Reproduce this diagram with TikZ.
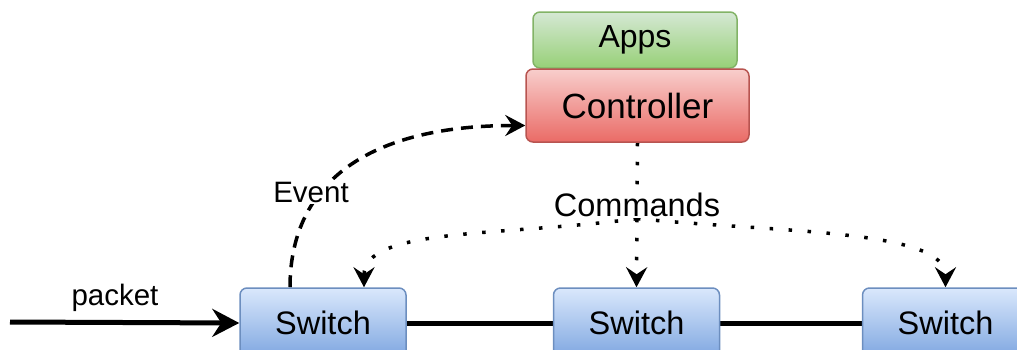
\documentclass[tikz,border=0pt]{standalone}
\usepackage{fontspec}
\setmainfont{Liberation Sans}
\usetikzlibrary{arrows.meta}

\definecolor{appsTop}{HTML}{D5E8D4}
\definecolor{appsBot}{HTML}{97D077}
\definecolor{appsLine}{HTML}{82B366}
\definecolor{ctrlTop}{HTML}{F8CECC}
\definecolor{ctrlBot}{HTML}{EA6B66}
\definecolor{ctrlLine}{HTML}{B85450}
\definecolor{swTop}{HTML}{DAE8FC}
\definecolor{swBot}{HTML}{7EA6E0}
\definecolor{swLine}{HTML}{6C8EBF}

\pgfdeclarelayer{bg}
\pgfsetlayers{bg,main}

\begin{document}
\begin{tikzpicture}[x=1pt,y=-1pt,
  box/.style={draw, rounded corners=7pt, line width=1.5pt, inner sep=0pt, text=black},
  appsbox/.style={box, draw=appsLine, top color=appsTop, bottom color=appsBot,
    minimum width=204pt, minimum height=56pt, font=\fontsize{32}{38}\selectfont},
  ctrlbox/.style={box, draw=ctrlLine, top color=ctrlTop, bottom color=ctrlBot,
    minimum width=223pt, minimum height=73pt, font=\fontsize{35}{40}\selectfont},
  swbox/.style={box, draw=swLine, top color=swTop, bottom color=swBot,
    minimum width=166pt, minimum height=70pt, font=\fontsize{32.5}{38}\selectfont},
  lbl/.style={fill=white, inner sep=1.5pt, font=\fontsize{29.5}{34}\selectfont},
  cmdlbl/.style={fill=white, inner sep=1.5pt, font=\fontsize{32.5}{38}\selectfont},
  link/.style={line width=5pt},
  evt/.style={line width=3.5pt, dash pattern=on 12pt off 8pt,
    -{Stealth[length=20pt, width=21pt, inset=7pt]}},
  cmd/.style={line width=3.5pt, dash pattern=on 3.5pt off 15.5pt,
    -{Stealth[length=20pt, width=21pt, inset=7pt]}},
]
\useasboundingbox (0,0) rectangle (1017,349);
\clip (0,0) rectangle (1017,349);

% application layer and controller
\node[appsbox] (apps) at (635,40) {Apps};
\node[ctrlbox] (ctrl) at (637.5,105.5) {Controller};

% data plane switches
\node[swbox] (sw1) at (323,323) {Switch};
\node[swbox] (sw2) at (636.5,323) {Switch};
\node[swbox] (sw3) at (945.5,323) {Switch};

% labels
\node[lbl] (evlbl) at (311,192) {Event};
\node[cmdlbl] (cmdlbl) at (637,205) {Commands};
\node (pktlbl) at (115,298) [font=\fontsize{29.5}{34}\selectfont, inner sep=0pt] {packet};

\coordinate (src) at (10,322);

\begin{pgfonlayer}{bg}
  % links between switches
  \draw[link] (sw1.east) -- (sw2.west);
  \draw[link] (sw2.east) -- (sw3.west);
  % incoming packet
  \draw[link, -{Stealth[length=27pt, width=28pt, inset=9pt]}] (src) -- (sw1.west);
  % event sent up to the controller
  \draw[evt] ([xshift=-33pt]sw1.north) .. controls +(0,-98) and +(-166,0) .. ([yshift=-20pt]ctrl.west);
  % commands pushed down to the switches
  \draw[cmd] (ctrl.south) -- (sw2.north);
  \draw[cmd] (cmdlbl.south) .. controls +(-137,18) and +(0,-60) .. ([xshift=41pt]sw1.north);
  \draw[cmd] (cmdlbl.south) .. controls +(143,14) and +(0,-58) .. (sw3.north);
\end{pgfonlayer}
\end{tikzpicture}
\end{document}
